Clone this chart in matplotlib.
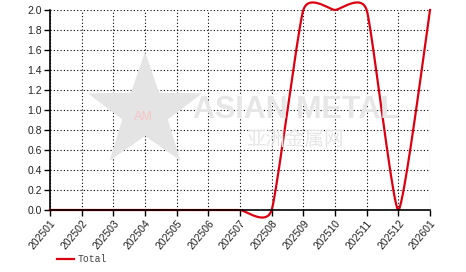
import numpy as np
import matplotlib
matplotlib.use('Agg')
import matplotlib.pyplot as plt
from matplotlib.patches import Polygon

# data
months = ['202501', '202502', '202503', '202504', '202505', '202506', '202507',
          '202508', '202509', '202510', '202511', '202512', '202601']
total = [0, 0, 0, 0, 0, 0, 0, 0, 2, 2, 2, 0, 2]
yticks = [0.0, 0.2, 0.4, 0.6, 0.8, 1.0, 1.2, 1.4, 1.6, 1.8, 2.0]

# bezier smoothing through the points, control points = P -/+ k*(next - prev)
def smooth(xs, ys, k=0.085, n=40):
    P = np.column_stack([np.asarray(xs, float), np.asarray(ys, float)])
    T = np.zeros_like(P)
    T[1:-1] = P[2:] - P[:-2]
    T[0] = P[1] - P[0]
    T[-1] = P[-1] - P[-2]
    out = []
    t = np.linspace(0, 1, n)[:, None]
    for i in range(len(P) - 1):
        p0, p3 = P[i], P[i+1]
        p1 = p0 + k * T[i]
        p2 = p3 - k * T[i+1]
        seg = (1-t)**3*p0 + 3*(1-t)**2*t*p1 + 3*(1-t)*t**2*p2 + t**3*p3
        out.append(seg)
    out = np.vstack(out)
    return out[:, 0], out[:, 1]

x = np.arange(len(months))
sx, sy = smooth(x, total)

fig = plt.figure(figsize=(4.66, 2.72), dpi=100)
ax = fig.add_axes([50/466, 1-210/272, 380/466, 200/272])

# watermark
star_c = (145, 112)
pts = []
for i in range(10):
    r = 60 if i % 2 == 0 else 24
    a = np.pi/2 + i*np.pi/5
    pts.append((star_c[0] + r*np.cos(a), 272 - star_c[1] + r*np.sin(a)))
fig.patches.append(Polygon(pts, closed=True, transform=None, facecolor='#e4e4e4',
                           edgecolor='none', zorder=0))
fig.text(143/466, 1-117/272, 'AM', color='#f6c4c4', fontsize=9, ha='center', va='center',
         family='Liberation Sans', zorder=1)
fig.text(296/466, 1-110/272, 'ASIAN METAL', color='#e6e6e6', fontsize=22, fontweight='bold',
         ha='center', va='center', family='Liberation Sans', zorder=1)
fig.text(295/466, 1-139/272, '亚洲金属网', color='#e6e6e6', fontsize=14,
         ha='center', va='center', family=['Noto Sans CJK SC', 'DejaVu Sans'], zorder=1)
ax.patch.set_alpha(0)

ax.plot(sx, sy, color='#dd0011', lw=1.6, label='Total', zorder=3, clip_on=False)

ax.set_xlim(0, len(months) - 1)
ax.set_ylim(0, 2.0)
ax.set_xticks(x)
ax.set_xticklabels(months, rotation=50, ha='right', rotation_mode='anchor',
                   fontsize=7.5, family='Liberation Sans', color='#222222')
ax.set_yticks(yticks)
ax.set_yticklabels(['%.1f' % v for v in yticks], fontsize=7.5, family='Liberation Sans',
                   color='#222222')
ax.tick_params(length=4, width=1, pad=2)
ax.grid(True, color='black', linestyle=(0, (1, 2)), linewidth=0.8)
ax.spines['top'].set_visible(False)
ax.spines['right'].set_visible(False)
ax.spines['left'].set_linewidth(1.2)
ax.spines['bottom'].set_linewidth(1.2)
ax.spines['bottom'].set_zorder(4)

leg = fig.legend(loc='center left', bbox_to_anchor=(57/466, 1-259/272), frameon=False,
                 prop={'family': 'Liberation Mono', 'size': 7}, handlelength=1.7,
                 handletextpad=0.4, borderpad=0, borderaxespad=0)
for t in leg.get_texts():
    t.set_color('#444444')

plt.savefig('out.png', dpi=100)
